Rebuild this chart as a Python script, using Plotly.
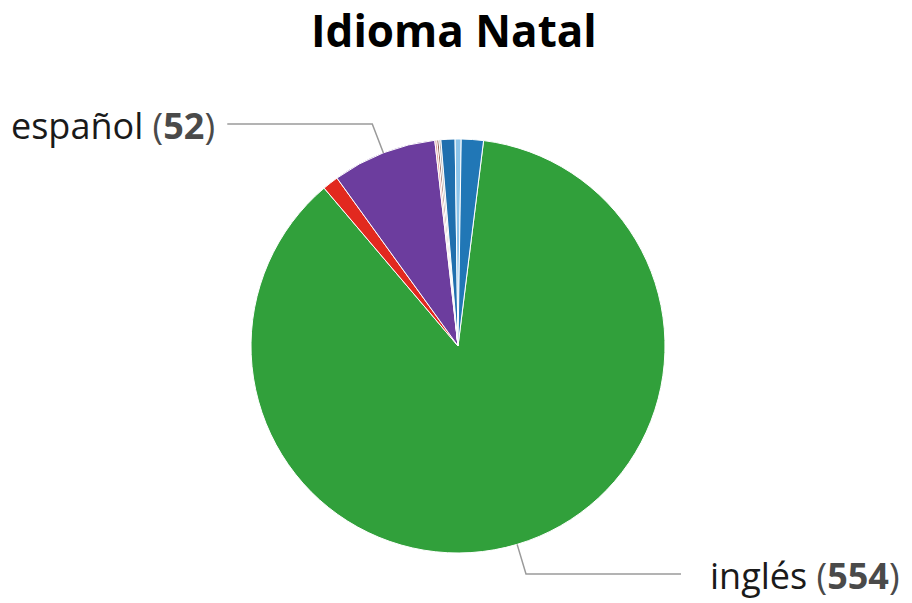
import math
import plotly.graph_objects as go

# ---- data (clockwise from the "inglés" slice) ----
labels = ["inglés", "otro 1", "español", "otro 2", "otro 3", "otro 4", "otro 5", "otro 6", "otro 7"]
values = [554, 8, 52, 1, 1, 1, 7, 3, 11]
colors = ["#31a03b", "#e2291f", "#6c3d9e", "#e79b9b", "#8c564b", "#b0b0b0", "#1f6fae", "#8cc4ea", "#2177b6"]
shown_labels = ["español", "inglés"]
title_text = "Idioma Natal"

# ---- layout geometry (page body has an 8px margin) ----
OFF = 8
W, H = 912 - OFF, 603 - OFF
cx, cy, R = 458 - OFF, 346 - OFF, 207
rotation = 7.1
font = "Open Sans"

fig = go.Figure()
fig.add_trace(go.Pie(
    labels=labels, values=values, sort=False, direction="clockwise",
    rotation=rotation, textinfo="none", showlegend=False,
    marker=dict(colors=colors, line=dict(color="white", width=1)),
    domain=dict(x=[(cx - R) / W, (cx + R) / W], y=[(H - cy - R) / H, (H - cy + R) / H]),
))

def px2paper(x, y):
    return x / W, 1 - y / H

total = sum(values)
shapes = []
annotations = []
cum = 0
for lab, v in zip(labels, values):
    mid = rotation + (cum + v / 2) / total * 360
    cum += v
    if lab not in shown_labels:
        continue
    a = math.radians(mid)
    x0, y0 = cx + R * math.sin(a), cy - R * math.cos(a)
    x1, y1 = cx + (R + 31) * math.sin(a), cy - (R + 31) * math.cos(a)
    right = math.sin(a) > 0
    x2 = x1 + 155 if right else x1 - 145
    pts = [px2paper(x0, y0), px2paper(x1, y1), px2paper(x2, y1)]
    path = "M {} {} L {} {} L {} {}".format(pts[0][0], pts[0][1], pts[1][0], pts[1][1], pts[2][0], pts[2][1])
    shapes.append(dict(type="path", xref="paper", yref="paper", path=path,
                       line=dict(color="#9a9a9a", width=1.5)))
    tx = x2 + 27 if right else x2 - 10
    ax, ay = px2paper(tx, y1 + 1.5)
    annotations.append(dict(
        x=ax, y=ay, xref="paper", yref="paper", showarrow=False,
        xanchor="left" if right else "right", yanchor="middle",
        text="{} <span style='color:#4a4a4a'>(<b>{}</b>)</span>".format(lab, v),
        font=dict(family=font, size=36, color="#1a1a1a"),
    ))

tx, ty = px2paper(454 - OFF, 30 - OFF)
annotations.append(dict(x=tx, y=ty, xref="paper", yref="paper", showarrow=False,
                        xanchor="center", yanchor="middle", text="<b>" + title_text + "</b>",
                        font=dict(family=font, size=44, color="#000000")))

fig.update_layout(
    width=W, height=H, margin=dict(l=0, r=0, t=0, b=0),
    paper_bgcolor="white", plot_bgcolor="white",
    shapes=shapes, annotations=annotations,
)
fig.write_html("out.html")
